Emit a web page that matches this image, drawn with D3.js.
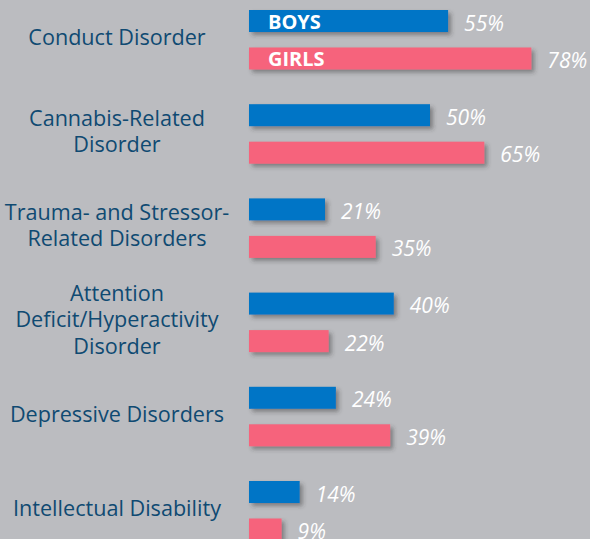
<!DOCTYPE html>
<head>
    <meta charset="utf-8">
    <script src="https://d3js.org/d3.v7.min.js"></script>
    <style>
        html, body {
            margin: 0;
            padding: 0;
            background: #bbbcc0;
        }
        svg {
            display: block;
            font-family: "Open Sans", sans-serif;
        }
        .cat text {
            fill: #0f4a72;
            font-size: 21.6px;
        }
        .value {
            fill: #ffffff;
            font-size: 21px;
            font-style: italic;
        }
        .key {
            fill: #ffffff;
            font-size: 20px;
            font-weight: bold;
        }
    </style>
</head>

<body>
<div id="chart"></div>
<script>
    // data
    var categories = [
        "Conduct Disorder",
        "Cannabis-Related|Disorder",
        "Trauma- and Stressor-|Related Disorders",
        "Attention|Deficit/Hyperactivity|Disorder",
        "Depressive Disorders",
        "Intellectual Disability"
    ];
    var series = ["BOYS", "GIRLS"];
    var boys = [55, 50, 21, 40, 24, 14];
    var girls = [78, 65, 35, 22, 39, 9];

    var width = 590;
    var height = 539;
    var colors = { BOYS: "#0474c6", GIRLS: "#f6637b" };

    var svg = d3.select("#chart")
        .append("svg")
        .attr("width", width)
        .attr("height", height);

    // soft shadow under the bars
    var defs = svg.append("defs");
    var f = defs.append("filter")
        .attr("id", "shadow")
        .attr("x", "-10%").attr("y", "-40%")
        .attr("width", "130%").attr("height", "200%");
    f.append("feDropShadow")
        .attr("dx", 3).attr("dy", 3)
        .attr("stdDeviation", 2.2)
        .attr("flood-color", "#333")
        .attr("flood-opacity", 0.45);

    var x = d3.scaleLinear()
        .domain([0, 100])
        .range([249, 249 + 362]);

    var yGroup = d3.scaleBand()
        .domain(categories)
        .range([10, 10 + 6 * 94.2])
        .paddingInner(0);

    var yInner = d3.scaleBand()
        .domain(series)
        .range([0, 59.5])
        .paddingInner(0.413)
        .paddingOuter(0);

    var rows = categories.map(function (c, i) {
        return { cat: c, BOYS: boys[i], GIRLS: girls[i] };
    });

    // category labels on the left, one text per line
    var lineH = 26.5;
    var cat = svg.append("g").attr("class", "cat");
    rows.forEach(function (r) {
        var lines = r.cat.split("|");
        var mid = yGroup(r.cat) + 59.5 / 2;
        var first = mid + 5 - (lines.length - 1) * lineH / 2;
        lines.forEach(function (l, j) {
            cat.append("text")
                .attr("text-anchor", "middle")
                .attr("x", 117)
                .attr("y", first + j * lineH)
                .text(l);
        });
    });

    // bars
    var groups = svg.selectAll(".grp")
        .data(rows)
        .enter().append("g")
        .attr("class", "grp")
        .attr("transform", function (d) { return "translate(0," + yGroup(d.cat) + ")"; });

    var cells = groups.selectAll(".bar")
        .data(function (d) {
            return series.map(function (s) { return { key: s, value: d[s] }; });
        })
        .enter();

    cells.append("rect")
        .attr("class", "bar")
        .attr("x", x(0))
        .attr("y", function (d) { return yInner(d.key); })
        .attr("width", function (d) { return x(d.value) - x(0); })
        .attr("height", yInner.bandwidth())
        .attr("fill", function (d) { return colors[d.key]; })
        .attr("filter", "url(#shadow)");

    cells.append("text")
        .attr("class", "value")
        .attr("x", function (d) { return x(d.value) + 16; })
        .attr("y", function (d) { return yInner(d.key) + yInner.bandwidth() / 2 + 9.5; })
        .text(function (d) { return d.value + "%"; });

    // series names inside the first pair of bars
    groups.filter(function (d, i) { return i === 0; })
        .selectAll(".key")
        .data(series)
        .enter().append("text")
        .attr("class", "key")
        .attr("x", x(0) + 19)
        .attr("y", function (s) { return yInner(s) + yInner.bandwidth() / 2 + 8; })
        .text(function (s) { return s; });
</script>
</body>
